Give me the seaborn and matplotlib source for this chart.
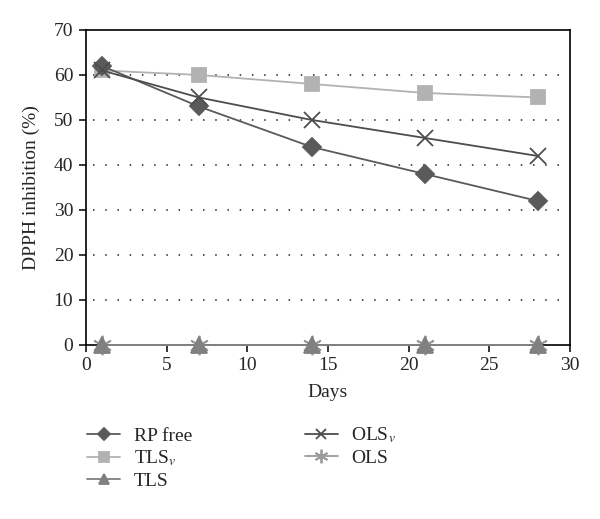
import pandas as pd
import matplotlib
matplotlib.use("Agg")
import matplotlib.pyplot as plt
import seaborn as sns

# values
days = [1, 7, 14, 21, 28]
rp_free = [62, 53, 44, 38, 32]
tls_v = [61, 60, 58, 56, 55]
tls = [0, 0, 0, 0, 0]
ols_v = [61, 55, 50, 46, 42]
ols = [0, 0, 0, 0, 0]

series = [
    ("RP free", rp_free, "D", "#5a5a5a", 9, 4),
    ("TLS$_v$", tls_v, "s", "#b2b2b2", 10, 3),
    ("TLS", tls, "^", "#808080", 11, 5),
    ("OLS$_v$", ols_v, "x", "#4d4d4d", 11, 4),
    ("OLS", ols, (6, 2, 0), "#9a9a9a", 14, 4.5),
]

sns.set_style("white")
plt.rcParams['font.family'] = ['Liberation Serif', 'DejaVu Serif']
plt.rcParams['mathtext.fontset'] = 'stix'

fig = plt.figure(figsize=(6, 5.19), dpi=100)
ax = fig.add_axes([0.143, 0.3353, 0.807, 0.607])

for label, vals, marker, color, ms, z in series:
    df = pd.DataFrame({'Days': days, 'val': vals})
    sns.lineplot(data=df, x='Days', y='val', ax=ax, label=label,
                 color=color, marker=marker, markersize=ms,
                 markeredgecolor=color, markerfacecolor=color,
                 markeredgewidth=1.3, linewidth=1.3, zorder=z, clip_on=False)

ax.set_xlim(0, 30)
ax.set_ylim(0, 70)
ax.set_xticks(range(0, 31, 5))
ax.set_yticks(range(0, 71, 10))
for y in range(10, 70, 10):
    ax.axhline(y, xmin=0.015, xmax=0.985, color='#222222',
               linestyle=(0, (1, 7)), linewidth=1.1, zorder=1)

for s in ax.spines.values():
    s.set_color('black')
    s.set_linewidth(1.2)
ax.tick_params(axis='both', direction='out', length=5, width=1.1,
               color='black', labelsize=14, left=True, bottom=True, pad=4)
ax.set_xlabel("Days", fontsize=14, labelpad=7)
ax.set_ylabel("DPPH inhibition (%)", fontsize=14, labelpad=10)

handles, labels = ax.get_legend_handles_labels()
ax.get_legend().remove()
fig.legend(handles, labels, loc='upper left', bbox_to_anchor=(0.145, 0.18),
           ncol=2, frameon=False, fontsize=14, handlelength=1.7,
           columnspacing=5.8, labelspacing=0.2, handletextpad=0.7,
           borderpad=0, borderaxespad=0, markerscale=0.7)

fig.savefig("out.png", dpi=100)
